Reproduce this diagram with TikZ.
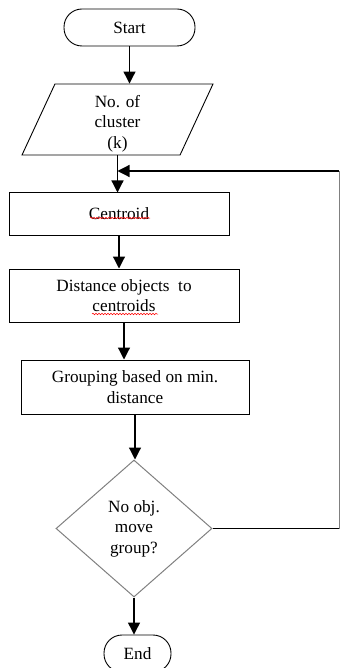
\documentclass[tikz,border=0pt]{standalone}
\usepackage{fontspec}
\setmainfont{Liberation Serif}
\usetikzlibrary{shapes.geometric,arrows.meta,decorations.pathmorphing}

\begin{document}
\begin{tikzpicture}[x=1pt,y=-1pt,
  texto/.style={font=\fontsize{17.2}{20.5}\selectfont,align=center},
  terminal/.style={texto,draw,line width=0.9pt,rounded corners=18pt,minimum height=37pt,inner sep=0pt},
  caixa/.style={texto,draw,line width=1pt,inner sep=0pt},
  entrada/.style={texto,draw,line width=0.9pt,trapezium,trapezium left angle=63,trapezium right angle=117,trapezium stretches body,inner sep=0pt},
  decisao/.style={texto,draw=gray,line width=1pt,diamond,inner sep=0pt},
  seta/.style={line width=1.2pt,-{Triangle[length=12pt,width=12pt]}},
  linha/.style={line width=1.2pt},
  fina/.style={line width=1pt,gray},
  erro/.style={red,line width=0.5pt,decorate,decoration={snake,amplitude=0.8pt,segment length=3pt}}]

\useasboundingbox (0,0) rectangle (340,668);

% caixas
\node[terminal,minimum width=131pt] (start) at (129.5,27.5) {Start};
\node[entrada,minimum height=71pt,minimum width=191pt] (input) at (117.5,119.5) {\rule{0pt}{20pt}No. of\\cluster\\(k)};
\node[caixa,minimum width=220pt,minimum height=42pt] (centroid) at (119,214) {Centroid};
\node[caixa,minimum width=230pt,minimum height=53pt] (dist) at (124,295.5) {Distance objects~ to\\centroids};
\node[caixa,minimum width=228pt,minimum height=54pt] (group) at (135,387) {Grouping based on min.\\distance};
\node[decisao,minimum width=156pt,minimum height=137pt] (check) at (134,528.5) {No obj.\\move\\group?};
\node[terminal,minimum width=67pt] (end) at (137.5,653.5) {End};
\coordinate (volta) at (339,171);

% erros de ortografia
\draw[erro] (90,218) -- (150,218);
\draw[erro] (92,314) -- (158,314);

% setas
\draw[seta] (start.south) -- (start.south |- input.north);
\draw[seta] (input.south) -- (input.south |- centroid.north);
\draw[seta] (centroid.south) -- (centroid.south |- dist.north);
\draw[seta] (dist.south) -- (dist.south |- group.north);
\draw[seta] (group.south) -- (group.south |- check.north);
\draw[seta] (check.south) -- (check.south |- end.north);

% volta
\draw[linha] (check.east) -- (check.east -| volta);
\draw[fina] (check.east -| volta) -- (volta);
\draw[seta] (volta) -- (input.south |- volta);

\end{tikzpicture}
\end{document}
